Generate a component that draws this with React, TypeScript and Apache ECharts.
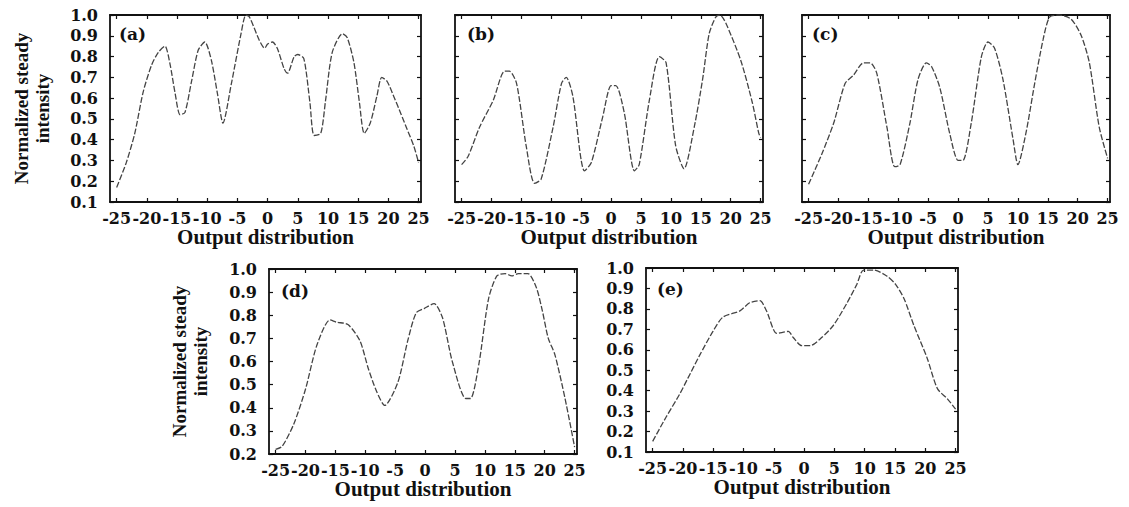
import React, { useEffect, useRef } from "react";
import * as echarts from "echarts";

const xTicks = [-25, -20, -15, -10, -5, 0, 5, 10, 15, 20, 25];
const panelLabels = ["(a)", "(b)", "(c)", "(d)", "(e)"];
const xName = "Output distribution";
const yName = "Normalized steady\nintensity";

const seriesA: [number, number][] = [
  [-25, 0.17], [-23.4, 0.29], [-22, 0.43], [-20.6, 0.63], [-19.2, 0.76], [-18.1, 0.82], [-17.0, 0.85],
  [-16.2, 0.77], [-15.3, 0.62], [-14.5, 0.52], [-13.7, 0.53], [-12.6, 0.68], [-11.5, 0.83], [-10.4, 0.87],
  [-9.3, 0.78], [-8.3, 0.62], [-7.4, 0.48], [-6.0, 0.67], [-4.4, 0.91], [-3.6, 1.0], [-3.0, 0.99],
  [-1.4, 0.88], [-0.5, 0.84], [0, 0.86], [0.8, 0.87], [1.6, 0.84], [2.75, 0.74], [3.3, 0.72],
  [4.4, 0.8], [5.0, 0.81], [6.0, 0.79], [7.0, 0.58], [7.7, 0.42], [8.8, 0.43], [9.6, 0.59],
  [10.7, 0.82], [12.4, 0.91], [13.2, 0.89], [14.3, 0.77], [15.2, 0.58], [16.0, 0.43], [17.0, 0.48],
  [18.1, 0.61], [18.9, 0.7], [19.8, 0.68], [21.0, 0.6], [22.0, 0.53], [23.1, 0.45], [24.2, 0.37], [25, 0.29],
];

const seriesB: [number, number][] = [
  [-25, 0.28], [-23.9, 0.32], [-22, 0.46], [-19.7, 0.59], [-17.8, 0.73], [-17.0, 0.73], [-15.8, 0.67],
  [-14.2, 0.37], [-12.8, 0.19], [-11.7, 0.21], [-9.7, 0.46], [-8.3, 0.67], [-7.5, 0.7], [-6.4, 0.61],
  [-4.45, 0.25], [-3.3, 0.29], [-1.4, 0.51], [0, 0.66], [0.8, 0.66], [2.2, 0.53], [3.9, 0.25],
  [4.7, 0.28], [6.4, 0.59], [8.05, 0.8], [9.2, 0.77], [10.8, 0.37], [12.2, 0.26], [13.9, 0.46],
  [15.3, 0.69], [16.4, 0.91], [17.5, 0.99], [18.2, 1.0], [19.2, 0.96], [21.7, 0.78], [23.6, 0.58],
  [24.7, 0.43], [25, 0.41],
];

const seriesC: [number, number][] = [
  [-25, 0.185], [-22.8, 0.33], [-20.8, 0.48], [-18.9, 0.67], [-17.5, 0.71], [-15.8, 0.77], [-14.7, 0.77],
  [-13.6, 0.72], [-11.9, 0.46], [-10.6, 0.27], [-9.7, 0.28], [-8.05, 0.48], [-6.7, 0.69], [-5.3, 0.77],
  [-4.4, 0.75], [-3.05, 0.65], [-1.4, 0.43], [0, 0.3], [0.8, 0.3], [2.2, 0.48], [3.9, 0.8],
  [5.0, 0.87], [6.1, 0.84], [7.5, 0.69], [9.2, 0.4], [10.0, 0.28], [11.4, 0.44], [12.8, 0.67],
  [14.2, 0.88], [15.3, 0.99], [16.9, 1.0], [18.9, 0.98], [20.6, 0.9], [21.95, 0.77], [23.6, 0.46], [25, 0.31],
];

const seriesD: [number, number][] = [
  [-25, 0.22], [-23.9, 0.233], [-21.95, 0.33], [-20.0, 0.48], [-18.1, 0.67], [-15.9, 0.78], [-14.8, 0.77],
  [-12.9, 0.76], [-10.9, 0.69], [-9.5, 0.57], [-8.1, 0.47], [-6.75, 0.41], [-4.55, 0.51], [-2.9, 0.69],
  [-1.5, 0.81], [-0.1, 0.83], [1.5, 0.85], [2.9, 0.79], [4.55, 0.6], [6.8, 0.44], [7.6, 0.44],
  [9.0, 0.59], [10.6, 0.87], [12.0, 0.97], [13.4, 0.98], [14.5, 0.97], [15.6, 0.98], [17.2, 0.98],
  [18.6, 0.92], [19.6, 0.82], [20.6, 0.7], [21.7, 0.63], [23.4, 0.44], [25, 0.23],
];

const seriesE: [number, number][] = [
  [-25, 0.152], [-22.8, 0.27], [-20.6, 0.38], [-19.2, 0.46], [-17.3, 0.57], [-15.05, 0.69], [-13.4, 0.76],
  [-10.6, 0.79], [-9.0, 0.83], [-7.3, 0.84], [-6.2, 0.79], [-4.5, 0.68], [-2.6, 0.69], [-1.8, 0.66],
  [-0.4, 0.62], [1.0, 0.62], [2.9, 0.66], [4.85, 0.72], [7.1, 0.83], [8.7, 0.92], [9.8, 0.99],
  [11.5, 0.99], [13.7, 0.96], [15.1, 0.92], [16.5, 0.85], [18.1, 0.72], [20.3, 0.56], [22.0, 0.41],
  [23.65, 0.36], [25, 0.31],
];

const allSeries = [seriesA, seriesB, seriesC, seriesD, seriesE];
const yMins = [0.1, 0.1, 0.1, 0.2, 0.1];
const showYLabels = [true, false, false, true, true];
const showYName = [true, false, false, true, false];
const yNameGaps = [57, 0, 0, 58, 0];

const grids = [
  { left: 110, top: 15, width: 311, height: 187 },
  { left: 455, top: 15, width: 308, height: 187 },
  { left: 802, top: 15, width: 308, height: 187 },
  { left: 269, top: 269, width: 308, height: 185 },
  { left: 646, top: 268, width: 312, height: 184 },
];
const labelPos = [
  [119, 25], [467, 25], [812, 25], [281, 282], [657, 280],
];

const FONT = "'DejaVu Serif', 'Liberation Serif', serif";
const TIMES = "'Liberation Serif', 'Times New Roman', serif";
const INK = "#111111";

export default function App() {
  const ref = useRef<HTMLDivElement>(null);
  useEffect(() => {
    if (!ref.current) return;
    const chart = echarts.init(ref.current, undefined, { renderer: "svg" });
    const xAxes: any[] = [];
    const yAxes: any[] = [];
    const series: any[] = [];
    const axisLine = { show: true, onZero: false, lineStyle: { color: INK, width: 1.8 } };
    allSeries.forEach((data, i) => {
      const xMin = -26.1;
      const xMax = 25.4;
      xAxes.push({
        type: "value", gridIndex: i, position: "bottom", min: xMin, max: xMax,
        axisLine,
        axisTick: { show: true, inside: true, length: 4, customValues: xTicks, lineStyle: { color: INK, width: 1.2 } },
        axisLabel: {
          show: true, customValues: xTicks, formatter: (v: number) => String(v),
          fontFamily: FONT, fontSize: 16, fontWeight: "bold", color: INK, margin: 8,
        },
        splitLine: { show: false },
        name: xName, nameLocation: "middle", nameGap: 23,
        nameTextStyle: { fontFamily: TIMES, fontSize: 21, fontWeight: "bold", color: INK },
      });
      xAxes.push({
        type: "value", gridIndex: i, position: "top", min: xMin, max: xMax,
        axisLine,
        axisTick: { show: true, inside: true, length: 4, customValues: xTicks, lineStyle: { color: INK, width: 1.2 } },
        axisLabel: { show: false },
        splitLine: { show: false },
      });
      yAxes.push({
        type: "value", gridIndex: i, position: "left", min: yMins[i], max: 1.0, interval: 0.1,
        axisLine,
        axisTick: { show: true, inside: true, length: 4, lineStyle: { color: INK, width: 1.2 } },
        axisLabel: {
          show: showYLabels[i], formatter: (v: number) => v.toFixed(1),
          fontFamily: FONT, fontSize: 16, fontWeight: "bold", color: INK, margin: 12,
        },
        splitLine: { show: false },
        name: showYName[i] ? yName : "", nameLocation: "middle", nameRotate: 90, nameGap: yNameGaps[i],
        nameTextStyle: { fontFamily: TIMES, fontSize: 19, fontWeight: "bold", color: INK, lineHeight: 21, align: "center" },
      });
      yAxes.push({
        type: "value", gridIndex: i, position: "right", min: yMins[i], max: 1.0, interval: 0.1,
        axisLine,
        axisTick: { show: true, inside: true, length: 4, lineStyle: { color: INK, width: 1.2 } },
        axisLabel: { show: false },
        splitLine: { show: false },
      });
      series.push({
        type: "line", xAxisIndex: 2 * i, yAxisIndex: 2 * i, data,
        showSymbol: false, smooth: 0.25,
        lineStyle: { color: "#444444", width: 1.3, type: [6, 2] },
      });
    });
    chart.setOption({
      animation: false,
      backgroundColor: "#ffffff",
      grid: grids.map((g) => ({ ...g, containLabel: false })),
      xAxis: xAxes,
      yAxis: yAxes,
      series,
      graphic: panelLabels.map((t, i) => ({
        type: "text", left: labelPos[i][0], top: labelPos[i][1],
        style: { text: t, font: `bold 17px ${FONT}`, fill: INK },
      })),
    });
    return () => chart.dispose();
  }, []);
  return (
    <div
      ref={ref}
      style={{ position: "absolute", left: 0, top: 0, width: 1129, height: 507 }}
    />
  );
}
